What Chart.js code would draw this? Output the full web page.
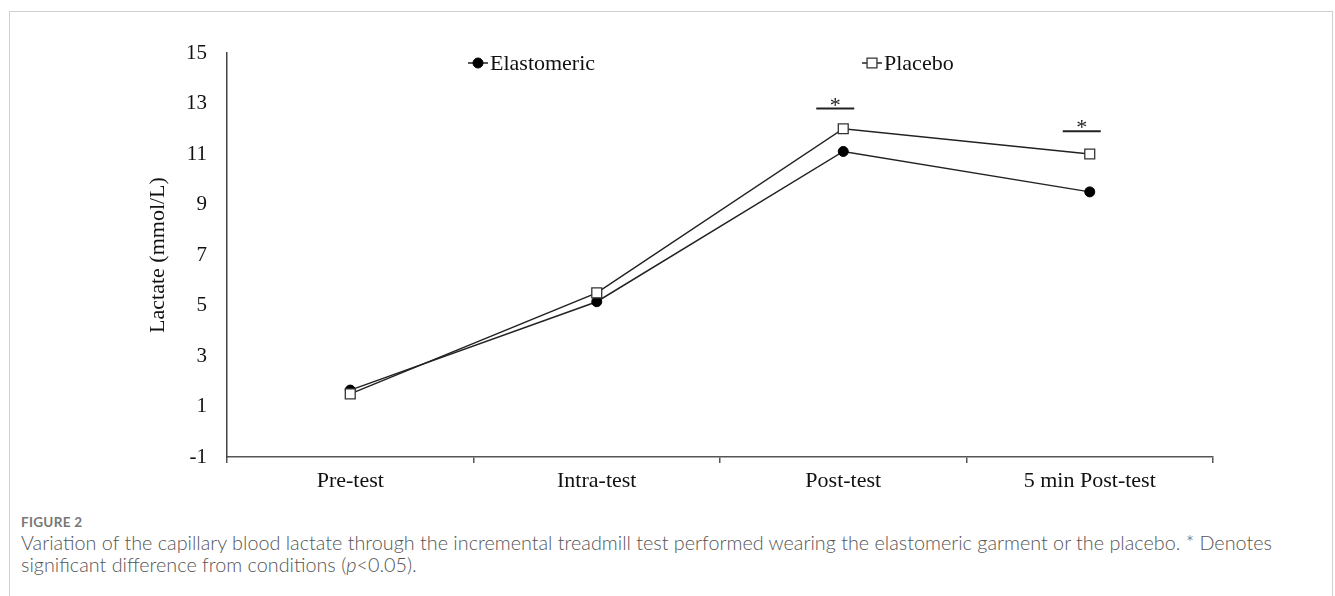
<!DOCTYPE html>
<html>
<head>
<meta charset="utf-8">
<title>Capillary blood lactate</title>
<script src="https://cdn.jsdelivr.net/npm/chart.js@4.4.1/dist/chart.umd.min.js"></script>
<style>
  html, body { margin: 0; padding: 0; background: #fff; overflow: hidden; }
  #frame { position: absolute; left: 9px; top: 11px; width: 1322px; height: 700px; border: 1px solid #cfcfcf; }
  #chartBox { position: absolute; left: 0; top: 0; width: 1335px; height: 500px; }
  #caption { position: absolute; left: 21px; top: 514px; width: 1290px; font-family: Lato, sans-serif; color: #666; }
  #caption .fig { font-size: 13.5px; font-weight: 700; color: #777; letter-spacing: 0.3px; line-height: 17px; }
  #caption .text { font-size: 19.8px; line-height: 22px; font-weight: 300; color: #555; }
</style>
</head>
<body>
<div id="frame"></div>
<div id="chartBox"><canvas id="lactateChart" width="1335" height="500"></canvas></div>
<div id="caption">
  <div class="fig">FIGURE 2</div>
  <div class="text">Variation of the capillary blood lactate through the incremental treadmill test performed wearing the elastomeric garment or the placebo. * Denotes significant difference from conditions (<i>p</i>&lt;0.05).</div>
</div>
<script>
// values
const categories = ['Pre-test', 'Intra-test', 'Post-test', '5 min Post-test'];
const elastomeric = [1.65, 5.15, 11.1, 9.5];
const placebo = [1.5, 5.5, 12.0, 11.0];
const yTicks = [-1, 1, 3, 5, 7, 9, 11, 13, 15];
const sigCategories = ['Post-test', '5 min Post-test'];
const sigLevels = [12.8, 11.9];

const serif = 'Liberation Serif';
const ink = '#222';

// legend drawn inside the plot, like the original
const legendPlugin = {
    id: 'innerLegend',
    afterDraw(chart) {
        const ctx = chart.ctx;
        const spots = [[478, 63], [872, 63]];
        chart.data.datasets.forEach((ds, i) => {
            const [x, y] = spots[i];
            ctx.save();
            ctx.strokeStyle = ds.borderColor;
            ctx.lineWidth = ds.borderWidth;
            ctx.beginPath();
            ctx.moveTo(x - 10, y);
            ctx.lineTo(x + 10, y);
            ctx.stroke();
            ctx.fillStyle = ds.pointBackgroundColor;
            ctx.strokeStyle = ds.pointBorderColor;
            ctx.lineWidth = ds.pointBorderWidth;
            Chart.helpers.drawPoint(ctx, {
                pointStyle: ds.pointStyle,
                radius: ds.pointRadius,
                borderWidth: ds.pointBorderWidth,
                rotation: 0
            }, x, y);
            ctx.fillStyle = '#111';
            ctx.font = '22px "' + serif + '"';
            ctx.textBaseline = 'middle';
            ctx.textAlign = 'left';
            ctx.fillText(ds.label, x + 12, y + 1);
            ctx.restore();
        });
    }
};

// significance bars with asterisks
const sigPlugin = {
    id: 'sigMarks',
    afterDatasetsDraw(chart) {
        const ctx = chart.ctx;
        const xs = chart.scales.x, ys = chart.scales.y;
        sigCategories.forEach((cat, i) => {
            const x = xs.getPixelForValue(categories.indexOf(cat)) - 8;
            const y = ys.getPixelForValue(sigLevels[i]);
            ctx.save();
            ctx.strokeStyle = ink;
            ctx.lineWidth = 2;
            ctx.beginPath();
            ctx.moveTo(x - 19, y);
            ctx.lineTo(x + 19, y);
            ctx.stroke();
            ctx.fillStyle = ink;
            ctx.font = '22px "' + serif + '"';
            ctx.textAlign = 'center';
            ctx.textBaseline = 'alphabetic';
            ctx.fillText('*', x, y + 3);
            ctx.restore();
        });
    }
};

new Chart(document.getElementById('lactateChart'), {
    type: 'line',
    data: {
        labels: categories,
        datasets: [{
            label: 'Elastomeric',
            data: elastomeric,
            borderColor: ink,
            borderWidth: 1.5,
            pointStyle: 'circle',
            pointRadius: 5,
            pointBackgroundColor: '#000',
            pointBorderColor: '#000',
            pointBorderWidth: 1,
            tension: 0,
            order: 1
        }, {
            label: 'Placebo',
            data: placebo,
            borderColor: ink,
            borderWidth: 1.5,
            pointStyle: 'rect',
            pointRadius: 7,
            pointBackgroundColor: '#fff',
            pointBorderColor: '#333',
            pointBorderWidth: 1.3,
            tension: 0,
            order: 0
        }]
    },
    options: {
        responsive: false,
        animation: false,
        layout: { padding: { left: 136, top: 53, right: 122, bottom: 3 } },
        plugins: {
            legend: { display: false },
            tooltip: { enabled: false }
        },
        scales: {
            x: {
                offset: true,
                afterFit: (scale) => { scale.height = 40; },
                grid: { display: true, drawOnChartArea: false, drawTicks: true, tickLength: 6, offset: true, color: '#555', lineWidth: 1.5 },
                border: { display: true, color: '#555', width: 1.5 },
                ticks: { padding: 5, color: '#111', font: { family: serif, size: 22 } }
            },
            y: {
                min: yTicks[0],
                max: yTicks[yTicks.length - 1],
                afterFit: (scale) => { scale.width = 91; },
                afterBuildTicks: (scale) => { scale.ticks = yTicks.map(v => ({ value: v })); },
                grid: { display: false, drawTicks: false },
                border: { display: true, color: '#444', width: 1.5 },
                ticks: { padding: 20, color: '#111', font: { family: serif, size: 21 } },
                title: {
                    display: true,
                    text: 'Lactate (mmol/L)',
                    color: '#111',
                    font: { family: serif, size: 22 },
                    padding: { top: 9, bottom: 0 }
                }
            }
        }
    },
    plugins: [legendPlugin, sigPlugin]
});
</script>
</body>
</html>
